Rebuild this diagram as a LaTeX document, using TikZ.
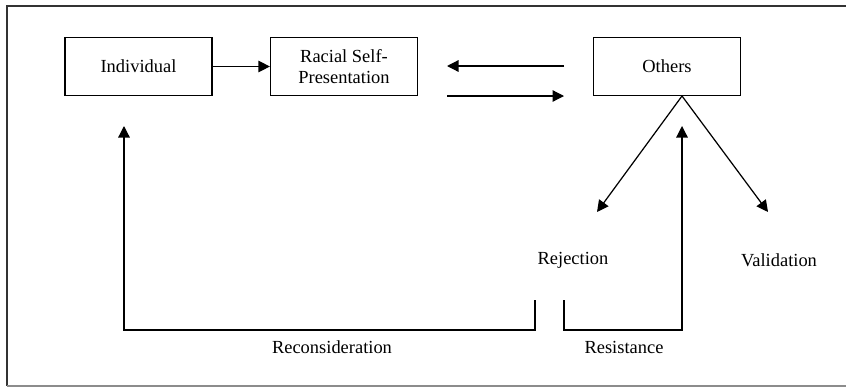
\documentclass[tikz,border=0pt]{standalone}
\usepackage{fontspec}
\setmainfont{Liberation Serif}
\usetikzlibrary{arrows.meta,calc,positioning}

\tikzset{
  stage/.style={draw, line width=0.7pt, minimum width=29.4mm, minimum height=11.6mm,
    align=center, font=\fontsize{10.5}{12}\selectfont, inner sep=0pt},
  lbl/.style={font=\fontsize{10.5}{12}\selectfont, inner sep=0pt},
  flow/.style={->, line width=0.7pt}
}

\begin{document}
\begin{tikzpicture}[x=0.2mm, y=-0.2mm, >={Triangle[length=2.3mm,width=2.3mm]}]

  \useasboundingbox (0,0) rectangle (846,387);

  % outer frame
  \draw[line width=1pt, black!80] (846,6) -- (7,6) -- (7,386);
  \draw[line width=1pt, black!45] (7,386) -- (846,386);

  % boxes
  \node[stage] (ind) at (138.5,66.5) {Individual};
  \node[stage] (rsp) at (344,66.5) {Racial Self-\\Presentation};
  \node[stage] (oth) at (667,66.5) {Others};

  % outcome labels
  \node[lbl] (rej) at (573,260) {Rejection};
  \node[lbl] (val) at (779,260) {Validation};
  \node[lbl] (rec) at (332,347) {Reconsideration};
  \node[lbl] (res) at (624,347) {Resistance};

  % free ends
  \coordinate (apex) at (682,96);
  \coordinate (rejtip) at (597,212);
  \coordinate (valtip) at (768,212);
  \coordinate (backR) at (564,66);
  \coordinate (backL) at (447,66);
  \coordinate (fwdL) at (447,96);
  \coordinate (fwdR) at (564,96);

  \draw[flow] (ind) -- (rsp);
  \draw[flow] (backR) -- (backL);
  \draw[flow] (fwdL) -- (fwdR);
  \draw[flow] (apex) -- (rejtip);
  \draw[flow] (apex) -- (valtip);

  % feedback loops
  \draw[flow] (535,300) -- (535,330) -- (124,330) -- (124,126);
  \draw[flow] (564,300) -- (564,330) -- (682,330) -- (682,126);

\end{tikzpicture}
\end{document}
